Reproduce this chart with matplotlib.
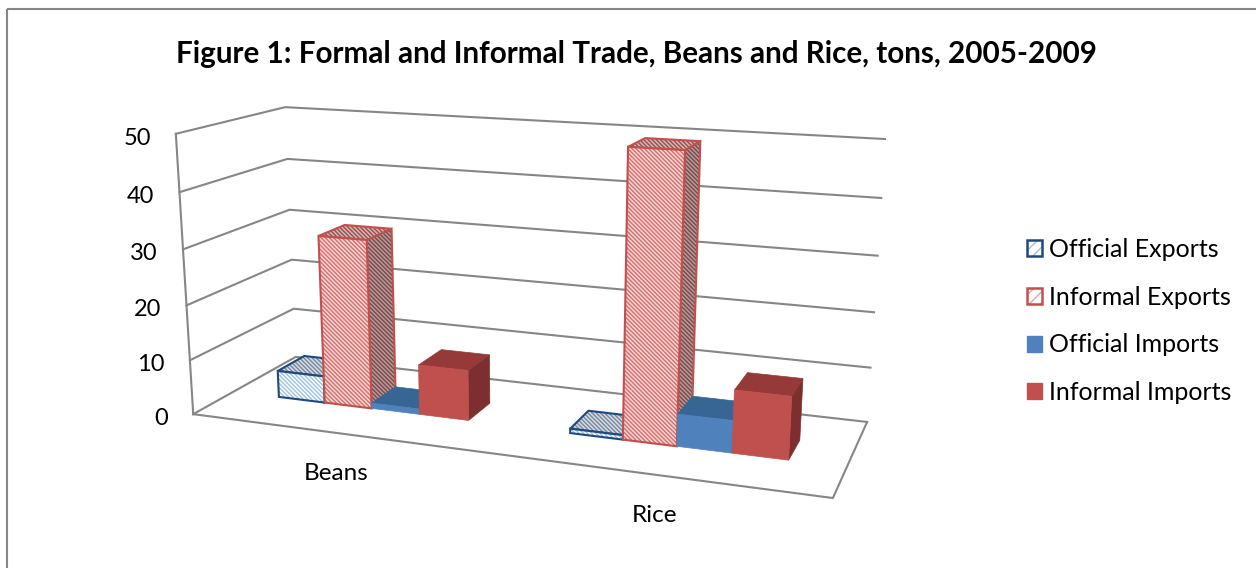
"""Figure 1: formal and informal trade, drawn as an Excel style 3D column chart."""

import matplotlib

matplotlib.use("Agg")
import matplotlib.pyplot as plt
import numpy as np
from matplotlib.colors import to_rgba
from matplotlib.patches import Patch, Polygon, Rectangle

categories = ["Beans", "Rice"]
series_names = ["Official Exports", "Informal Exports", "Official Imports", "Informal Imports"]
official_exports = [5, 0.8]
informal_exports = [31, 50]
official_imports = [1, 5.7]
informal_imports = [9.2, 11]
value_ticks = [0, 10, 20, 30, 40, 50]

# world (category, depth, value) -> pixel, corners
calib_world = [(0, 0, 0), (0, 0, 50), (0, 1, 0), (0, 1, 50), (2, 1, 0), (2, 1, 50), (2, 0, 0)]
calib_pixel = [(193, 414), (176, 134), (296, 357), (285, 107), (867, 422), (885, 139), (833, 498)]


def fit_camera(world, pixel):
    rows = []
    for (x, y, z), (u, v) in zip(world, pixel):
        rows.append([x, y, z, 1, 0, 0, 0, 0, -u * x, -u * y, -u * z, -u])
        rows.append([0, 0, 0, 0, x, y, z, 1, -v * x, -v * y, -v * z, -v])
    return np.linalg.svd(np.array(rows, dtype=float))[2][-1].reshape(3, 4)


CAMERA = fit_camera(calib_world, calib_pixel)


def project(x, y, z):
    u, v, w = CAMERA @ np.array([x, y, z, 1.0])
    return u / w, v / w


plt.rcParams["font.family"] = ["Lato", "DejaVu Sans"]
plt.rcParams["hatch.linewidth"] = 1.0

fig = plt.figure(figsize=(12.56, 5.68), dpi=100)
ax = fig.add_axes([0, 0, 1, 1])
ax.set_xlim(0, 1256)
ax.set_ylim(568, 0)
ax.axis("off")

ax.add_patch(Rectangle((7, 9), 1260, 570, fill=False, edgecolor="#868686", lw=1.5))
ax.text(636, 54, "Figure 1: Formal and Informal Trade, Beans and Rice, tons, 2005-2009",
        ha="center", va="center", fontsize=21.35, fontweight="bold", color="black")

# walls and floor
GRID = "#868686"
for v in value_ticks:
    pts = [project(0, 0, v), project(0, 1, v), project(2, 1, v)]
    ax.plot(*zip(*pts), color=GRID, lw=1.5, zorder=1)
    u0, v0 = project(0, 0, v)
    ax.text(u0 - 25, v0 + 4.5, str(v), ha="right", va="center", fontsize=17)
ax.plot(*zip(project(0, 0, 0), project(0, 0, 50)), color=GRID, lw=1.5, zorder=1)
ax.plot(*zip(project(0, 0, 0), project(2, 0, 0), project(2, 1, 0)), color=GRID, lw=1.5, zorder=1)

styles = [
    # front, top, right: (fill, hatch colour), then edge colour and hatch pattern
    dict(front=("white", "#9cc2e0"), top=("#d5dbe2", "#78889c"), side=("#d5dbe2", "#78889c"),
         edge="#1f497d", hatch="\\" * 8),
    dict(front=("#f6d6d5", "#d66e6c"), top=("#d8b4b3", "#96504e"), side=("#b89898", "#7a4a4a"),
         edge="#c0504d", hatch="\\" * 8),
    dict(front=("#4f81bd", None), top=("#386694", None), side=("#2f5a8a", None), edge=None, hatch=None),
    dict(front=("#c0504d", None), top=("#953a38", None), side=("#7c2f2e", None), edge=None, hatch=None),
]


def draw_face(corners, colors, style):
    fill, hatch_color = colors
    if hatch_color is None:
        ax.add_patch(Polygon(corners, closed=True, facecolor=fill, edgecolor=fill, lw=0.5, zorder=2))
        return
    patch = Polygon(corners, closed=True, facecolor=fill, edgecolor=style["edge"], lw=1.5,
                    hatch=style["hatch"], zorder=2)
    patch._hatch_color = to_rgba(hatch_color)
    ax.add_patch(patch)


values = [official_exports, informal_exports, official_imports, informal_imports]
bar_w = 1 / 6
depth_a, depth_b = 0.37, 0.64
for c in range(len(categories)):
    x_start = c + bar_w
    for s, style in enumerate(styles):
        x0, x1 = x_start + s * bar_w, x_start + (s + 1) * bar_w
        h = values[s][c]
        draw_face([project(x1, depth_a, 0), project(x1, depth_b, 0), project(x1, depth_b, h), project(x1, depth_a, h)],
                  style["side"], style)
        draw_face([project(x0, depth_a, h), project(x1, depth_a, h), project(x1, depth_b, h), project(x0, depth_b, h)],
                  style["top"], style)
        draw_face([project(x0, depth_a, 0), project(x1, depth_a, 0), project(x1, depth_a, h), project(x0, depth_a, h)],
                  style["front"], style)

    u, v = project(c + 0.5, 0, 0)
    ax.text(u, v + 41, categories[c], ha="center", va="center", fontsize=17.5)

handles = [
    Patch(facecolor="white", edgecolor="#1f497d", lw=1.8, hatch="///"),
    Patch(facecolor="white", edgecolor="#c0504d", lw=1.8, hatch="///"),
    Patch(facecolor="#4f81bd", edgecolor="#4f81bd"),
    Patch(facecolor="#c0504d", edgecolor="#c0504d"),
]
leg = ax.legend(handles, series_names, loc="center left", bbox_to_anchor=(1027 / 1256, 1 - 321 / 568),
                frameon=False, fontsize=18, handlelength=0.6, handleheight=0.6, handletextpad=0.28,
                labelspacing=0.99, borderpad=0, borderaxespad=0)
leg.get_patches()[0]._hatch_color = to_rgba("#9cc2e0")
leg.get_patches()[1]._hatch_color = to_rgba("#e8a5a3")

fig.savefig("out.png", dpi=100)
